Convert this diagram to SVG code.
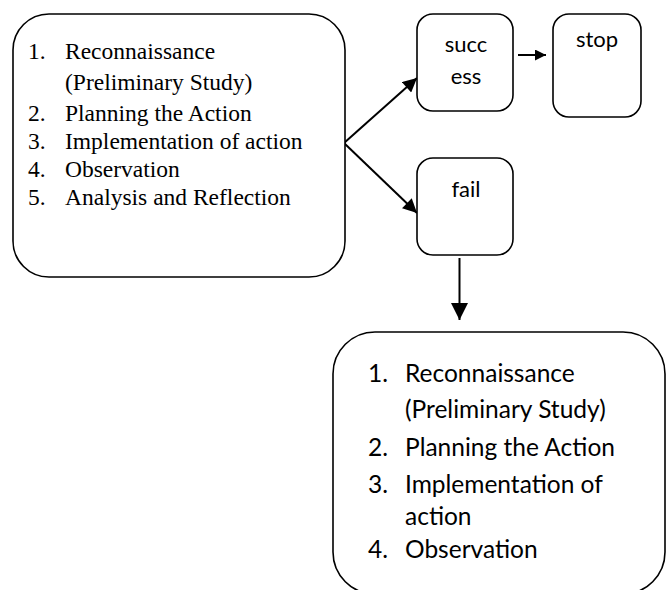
<svg xmlns="http://www.w3.org/2000/svg" width="670" height="590" viewBox="0 0 670 590">
<style>
.box{fill:#fff;stroke:#000;stroke-width:1.6}
.serif{font-family:"Liberation Serif","Times New Roman",serif;font-size:23.5px;fill:#000}
.sans{font-family:Lato,"Liberation Sans",sans-serif;font-size:24.5px;fill:#000}
.small{font-family:Lato,"Liberation Sans",sans-serif;font-size:22px;fill:#000;text-anchor:middle}
.conn{stroke:#000;stroke-width:2;fill:none}
</style>
<defs>
<marker id="ah" viewBox="0 0 10 10" refX="10" refY="5" markerWidth="7.5" markerHeight="7" markerUnits="strokeWidth" orient="auto">
<path d="M0,0 L10,5 L0,10 z" fill="#000"/>
</marker>
<marker id="ahs" viewBox="0 0 10 10" refX="10" refY="5" markerWidth="5.5" markerHeight="5.5" markerUnits="strokeWidth" orient="auto">
<path d="M0,0 L10,5 L0,10 z" fill="#000"/>
</marker>
<marker id="ahl" viewBox="0 0 10 10" refX="10" refY="5" markerWidth="8.5" markerHeight="8.5" markerUnits="strokeWidth" orient="auto">
<path d="M0,0 L10,5 L0,10 z" fill="#000"/>
</marker>
</defs>
<rect width="670" height="590" fill="#fff"/>

<g id="connectors">
<line class="conn" x1="344" y1="143" x2="417" y2="78" marker-end="url(#ah)"/>
<line class="conn" x1="344" y1="143" x2="417" y2="213" marker-end="url(#ah)"/>
<line class="conn" x1="518" y1="55" x2="546" y2="55" marker-end="url(#ahs)"/>
<line class="conn" x1="459.5" y1="258" x2="459.5" y2="320" marker-end="url(#ahl)"/>
</g>

<g id="node-cycle1">
<rect class="box" x="13" y="14" width="332" height="263" rx="36" ry="36"/>
<text class="serif">
<tspan x="28" y="59">1.</tspan><tspan x="65" y="59">Reconnaissance</tspan>
<tspan x="65" y="90">(Preliminary Study)</tspan>
<tspan x="28" y="121">2.</tspan><tspan x="65" y="121">Planning the Action</tspan>
<tspan x="28" y="149">3.</tspan><tspan x="65" y="149">Implementation of action</tspan>
<tspan x="28" y="177">4.</tspan><tspan x="65" y="177">Observation</tspan>
<tspan x="28" y="205">5.</tspan><tspan x="65" y="205">Analysis and Reflection</tspan>
</text>
</g>

<g id="node-success">
<rect class="box" x="417" y="14" width="96" height="97" rx="16" ry="16"/>
<text class="small"><tspan x="466" y="52">succ</tspan><tspan x="466" y="84">ess</tspan></text>
</g>

<g id="node-stop">
<rect class="box" x="553" y="14" width="88" height="103" rx="16" ry="16"/>
<text class="small" x="597" y="47">stop</text>
</g>

<g id="node-fail">
<rect class="box" x="417" y="158" width="96" height="97" rx="16" ry="16"/>
<text class="small" x="466" y="197">fail</text>
</g>

<g id="node-cycle2">
<rect class="box" x="333" y="332" width="332" height="262" rx="42" ry="42"/>
<text class="sans">
<tspan x="368" y="382">1.</tspan><tspan x="405" y="382">Reconnaissance</tspan>
<tspan x="405" y="418">(Preliminary Study)</tspan>
<tspan x="368" y="456">2.</tspan><tspan x="405" y="456">Planning the Action</tspan>
<tspan x="368" y="493">3.</tspan><tspan x="405" y="493">Implementation of</tspan>
<tspan x="405" y="525">action</tspan>
<tspan x="368" y="558">4.</tspan><tspan x="405" y="558">Observation</tspan>
</text>
</g>
</svg>
